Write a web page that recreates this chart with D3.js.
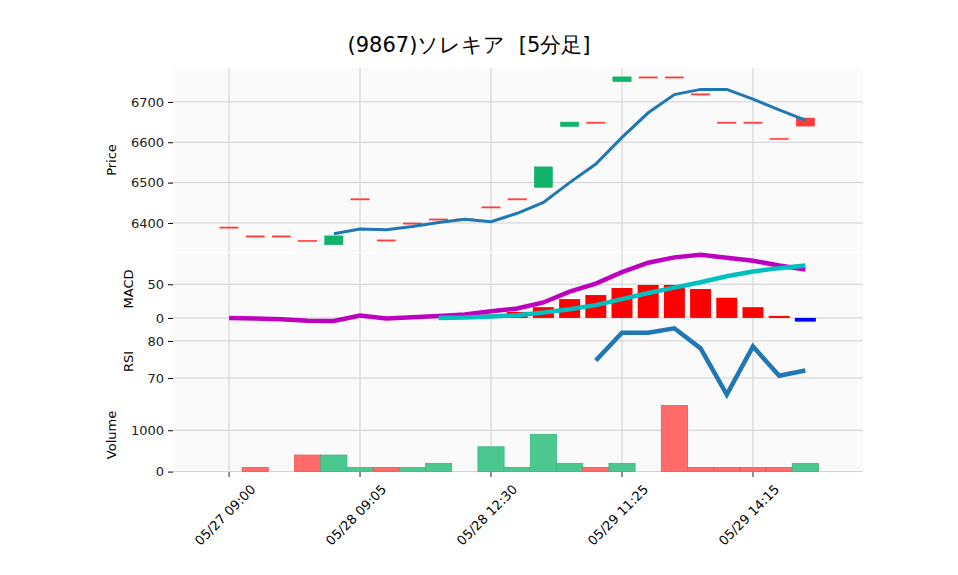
<!DOCTYPE html><html><head><meta charset="utf-8"><script src="https://cdn.jsdelivr.net/npm/d3@7"></script>
<style>body{margin:0;background:#fff}text{font-family:"DejaVu Sans",sans-serif}</style></head><body><svg id="c" width="958" height="575"></svg>
<script>
const tickLabels=["05/27 09:00","05/28 09:05","05/28 12:30","05/29 11:25","05/29 14:15"];
const tickIdx=[0,5,10,15,20];
const opens =[6390,6368,6368,6357,6346,6460,6358,6400,6410,6410,6440,6460,6488,6639,6650,6750,6762,6762,6720,6650,6650,6610,6660];
const closes=[6390,6368,6368,6357,6368,6460,6358,6400,6410,6410,6440,6460,6539,6650,6650,6762,6762,6762,6720,6650,6650,6610,6640];
const ma=[null,null,null,null,6373,6385,6383,6391,6401,6409,6403,6424,6451,6500,6546,6612,6673,6718,6731,6731,6707,6680,6655];
const macd=[0,-1,-2,-4,-4.5,3.5,-1,1,3,5,10,14,23,39,51,68,82,90,94,89.5,85,78,72];
const signal=[null,null,null,null,null,null,null,null,0,0.5,2,4,8,13,19,28,37,45,53,62,69,74,78];
const hist=[null,null,null,null,null,null,null,null,0,2,5,9,16,28,34,44.5,49,49,43,30,16,3,-5.5];
const rsi=[null,null,null,null,null,null,null,null,null,null,null,null,null,null,74.7,82.2,82.2,83.4,78,65.5,78.5,70.6,72];
const volume=[0,100,0,400,400,100,100,100,200,0,600,100,900,200,100,200,0,1600,100,100,100,100,200];
const volUp=[0,0,0,0,1,1,0,1,1,1,1,1,1,1,0,1,0,0,0,0,0,0,1];

const svg=d3.select("#c");
const L=173,R=863;
const x=d3.scaleLinear().domain([-2.14,24.2]).range([L,R]);
const step=x(1)-x(0);
const panels=[
 {t:68,b:252,dom:[6328,6784],ticks:[6400,6500,6600,6700],label:"Price",lx:116},
 {t:253,b:325,dom:[-10.5,96.5],ticks:[0,50],label:"MACD",lx:133},
 {t:325,b:398,dom:[64.6,84.3],ticks:[70,80],label:"RSI",lx:133},
 {t:398,b:472,dom:[-10,1780],ticks:[0,1000],label:"Volume",lx:116}];
panels.forEach(p=>{
 p.y=d3.scaleLinear().domain(p.dom).range([p.b,p.t]);
 svg.append("rect").attr("x",L).attr("y",p.t).attr("width",R-L).attr("height",p.b-p.t).attr("fill","#fafafa");
 tickIdx.forEach(i=>svg.append("line").attr("x1",x(i)).attr("x2",x(i)).attr("y1",p.t).attr("y2",p.b).attr("stroke","#d0d0d0").attr("stroke-width",1));
 const ax=svg.append("g").attr("transform",`translate(${L},0)`).call(d3.axisLeft(p.y).tickValues(p.ticks).tickFormat(d3.format("d")).tickSize(5).tickPadding(4));
 ax.select(".domain").remove();ax.selectAll("text").attr("font-size",13).attr("fill","#222");
 p.ticks.forEach(v=>svg.append("line").attr("x1",L).attr("x2",R).attr("y1",p.y(v)).attr("y2",p.y(v)).attr("stroke","#d0d0d0"));
 svg.append("text").attr("transform",`translate(${p.lx},${(p.t+p.b)/2}) rotate(-90)`).attr("text-anchor","middle").attr("font-size",13).text(p.label);
});
const [P,M,Rs,V]=panels;
const bw=step*0.7;
opens.forEach((o,i)=>{const c=closes[i];const up=c>o;
 const y1=P.y(Math.max(o,c)),y2=P.y(Math.min(o,c));
 svg.append("rect").attr("x",x(i)-bw/2).attr("y",y1).attr("width",bw).attr("height",Math.max(1.2,y2-y1))
  .attr("fill",up?"#13b26b":"#ff3b3b").attr("stroke",up?"#13b26b":"#ff3b3b").attr("stroke-width",0.5);});
const line=(arr,sc)=>d3.line().defined(d=>d!=null).x((d,i)=>x(i)).y(d=>sc(d))(arr);
svg.append("path").attr("d",line(ma,P.y)).attr("fill","none").attr("stroke","#1f77b4").attr("stroke-width",3);
hist.forEach((h,i)=>{if(h==null)return;svg.append("rect").attr("x",x(i)-step*0.4).attr("width",step*0.8)
 .attr("y",M.y(Math.max(0,h))).attr("height",Math.abs(M.y(h)-M.y(0))).attr("fill",h>=0?"#ff0000":"#0000ff");});
svg.append("path").attr("d",line(macd,M.y)).attr("fill","none").attr("stroke","#bf00bf").attr("stroke-width",4.5);
svg.append("path").attr("d",line(signal,M.y)).attr("fill","none").attr("stroke","#00bfbf").attr("stroke-width",4.5);
svg.append("path").attr("d",line(rsi,Rs.y)).attr("fill","none").attr("stroke","#1f77b4").attr("stroke-width",4.5);
volume.forEach((v,i)=>{if(!v)return;const up=volUp[i];
 svg.append("rect").attr("x",x(i)-step/2).attr("width",step).attr("y",V.y(v)).attr("height",V.y(0)-V.y(v))
  .attr("fill",up?"#4cc790":"#ff6b6b").attr("stroke",up?"#3bb77f":"#ef5555").attr("stroke-width",0.8);});
tickIdx.forEach((t,k)=>{svg.append("line").attr("x1",x(t)).attr("x2",x(t)).attr("y1",472).attr("y2",477).attr("stroke","#222");
 svg.append("text").attr("transform",`translate(${x(t)-4},${515}) rotate(-45)`).attr("text-anchor","middle").attr("dy","0.35em").attr("font-size",13).text(tickLabels[k]);});
svg.append("text").attr("x",469).attr("y",52).attr("text-anchor","middle").attr("font-size",21).style("white-space","pre").attr("font-family","'Noto Sans CJK JP',sans-serif").text("(9867)ソレキア  [5分足]");
</script></body></html>
